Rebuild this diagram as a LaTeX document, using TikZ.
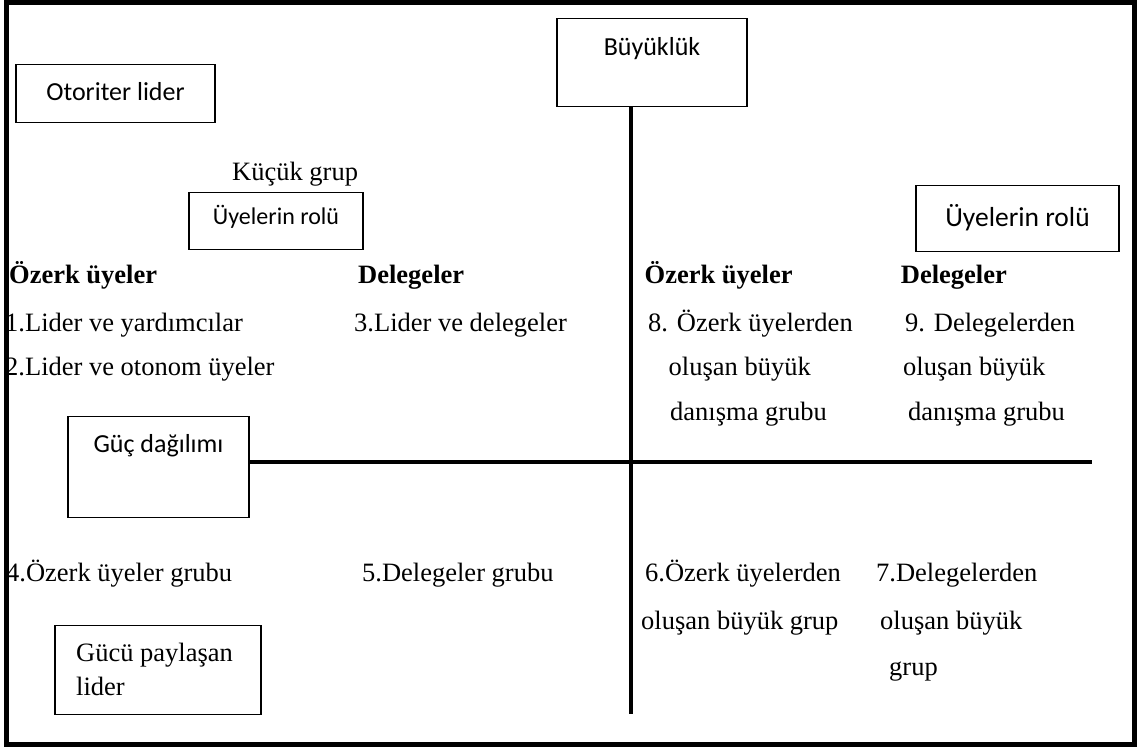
\documentclass[tikz,border=0pt]{standalone}
\usepackage{fontspec}
\setmainfont{Liberation Serif}
\newfontfamily\boxfont{Carlito}
\begin{document}
\begin{tikzpicture}[x=1pt,y=-1pt,
  box/.style={draw, line width=1.3pt, inner sep=0pt, anchor=north,
              font=\boxfont\fontsize{26}{31}\selectfont},
  lbl/.style={anchor=base west, inner sep=0pt, font=\fontsize{26.5}{32}\selectfont},
  head/.style={anchor=base west, inner sep=0pt, font=\bfseries\fontsize{26.5}{32}\selectfont},
  axisline/.style={line width=4.5pt},
  framebox/.style={line width=5pt}]
\useasboundingbox (0,0) rectangle (1137,747);

% labelled boxes
\node[box, minimum width=199pt, text height=36pt, text depth=22pt] (otoriter) at (115.5,64) {Otoriter lider};
\node[box, minimum width=190pt, text height=37pt, text depth=51pt] (buyukluk) at (652,18) {Büyüklük};
\node[box, minimum width=174pt, text height=32pt, text depth=25pt,
      font=\boxfont\fontsize{24}{29}\selectfont] (rolsol) at (276,192) {Üyelerin rolü};
\node[box, minimum width=203pt, text height=41pt, text depth=25pt,
      font=\boxfont\fontsize{27.5}{33}\selectfont] (rolsag) at (1017.5,185) {Üyelerin rolü};
\node[box, minimum width=181pt, text height=36pt, text depth=65pt] (guc) at (158.5,416) {Güç dağılımı};
\node[box, minimum width=206pt, minimum height=89pt] (paylasan) at (158,625) {};
\node[lbl] (paylasan1) at (76,661) {Gücü paylaşan};
\node[lbl] (paylasan2) at (76,695) {lider};

\node[lbl] (kucuk) at (232,180) {Küçük grup};

% axes
\coordinate (vend) at (631,714);
\coordinate (hend) at (1092,462);
\draw[axisline] (buyukluk.south -| vend) -- (vend);
\draw[axisline] (guc.east |- hend) -- (hend);

% upper left quadrant
\node[head] (ozerk1) at (9,283) {Özerk üyeler};
\node[head] (dele1) at (358,283) {Delegeler};
\node[lbl] (t1) at (5,331) {1.Lider ve yardımcılar};
\node[lbl] (t2) at (5,375) {2.Lider ve otonom üyeler};
\node[lbl] (t3) at (354,331) {3.Lider ve delegeler};

% upper right quadrant
\node[head] (ozerk2) at (644.5,283) {Özerk üyeler};
\node[head] (dele2) at (900.7,283) {Delegeler};
\node[lbl] (t8a) at (648,331) {8. Özerk üyelerden};
\node[lbl] (t8b) at (668.5,375) {oluşan büyük};
\node[lbl] (t8c) at (670,420) {danışma grubu};
\node[lbl] (t9a) at (905,331) {9. Delegelerden};
\node[lbl] (t9b) at (903,375) {oluşan büyük};
\node[lbl] (t9c) at (908,420) {danışma grubu};

% lower quadrants
\node[lbl] (t4) at (6,581) {4.Özerk üyeler grubu};
\node[lbl] (t5) at (362,581) {5.Delegeler grubu};
\node[lbl] (t6a) at (645,581) {6.Özerk üyelerden};
\node[lbl] (t6b) at (641,629) {oluşan büyük grup};
\node[lbl] (t7a) at (876,581) {7.Delegelerden};
\node[lbl] (t7b) at (880,629) {oluşan büyük};
\node[lbl] (t7c) at (889,675) {grup};

% outer frame
\draw[framebox] (6,2.5) rectangle (1134.5,744.5);
\end{tikzpicture}
\end{document}
